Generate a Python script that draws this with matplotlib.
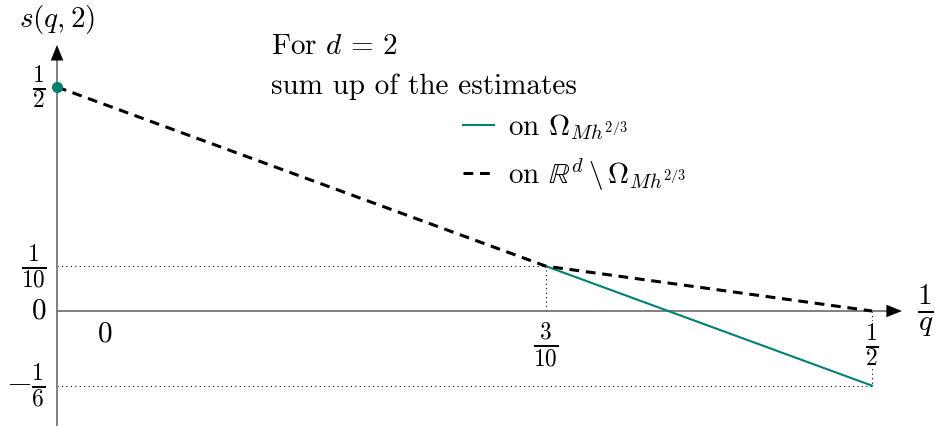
import matplotlib
matplotlib.use("Agg")
import matplotlib.pyplot as plt
from matplotlib.lines import Line2D

plt.rcParams['font.family'] = 'serif'
plt.rcParams['font.serif'] = ['cmr10']
plt.rcParams['mathtext.fontset'] = 'cm'
plt.rcParams['axes.formatter.use_mathtext'] = True

# data (x = 1/q, y = s(q, 2))
x_outside = [0, 3 / 10, 1 / 2]
y_outside = [1 / 2, 1 / 10, 0]
x_inside = [3 / 10, 1 / 2]
y_inside = [1 / 10, -1 / 6]

x_ticks = [0, 3 / 10, 1 / 2]
x_tick_labels = [r'$0$', r'$\frac{3}{10}$', r'$\frac{1}{2}$']
y_ticks = [1 / 2, 1 / 10, 0, -1 / 6]
y_tick_labels = [r'$\frac{1}{2}$', r'$\frac{1}{10}$', r'$0$', r'$-\frac{1}{6}$']

TEAL = '#007f73'
AXIS_GRAY = '#6b6b6b'
FS = 21

fig = plt.figure(figsize=(9.35, 4.26), dpi=100)
ax = fig.add_axes([0, 0, 1, 1])
ax.set_xlim(-57 / 1630, (935 - 57) / 1630)
ax.set_ylim(-(426 - 311) / 448, 311 / 448)
ax.axis('off')

x_tip = 0.5184
y_tip = 0.594
y_bot = ax.get_ylim()[0]

# helper lines
ax.plot([0, x_inside[0]], [y_inside[0]] * 2, ls=(0, (1, 3)), color='black', lw=0.8)
ax.plot([x_inside[0]] * 2, [0, y_inside[0]], ls=(0, (1, 3)), color='black', lw=0.8)
ax.plot([0, x_inside[-1]], [y_inside[-1]] * 2, ls=(0, (1, 3)), color='black', lw=0.8)
ax.plot([x_inside[-1]] * 2, [0, y_inside[-1]], ls=(0, (1, 3)), color='black', lw=0.8)

# axes
ax.plot([0, x_tip - 0.008], [0, 0], color=AXIS_GRAY, lw=1.2, solid_capstyle='butt')
ax.plot([0, 0], [y_bot, y_tip - 0.03], color=AXIS_GRAY, lw=1.2, solid_capstyle='butt')
arrow = dict(arrowstyle='-|>,head_length=0.75,head_width=0.3', mutation_scale=15,
             color='black', lw=0, shrinkA=0, shrinkB=0)
ax.annotate('', xy=(x_tip, 0), xytext=(x_tip - 0.01, 0), arrowprops=arrow)
ax.annotate('', xy=(0, y_tip), xytext=(0, y_tip - 0.03), arrowprops=arrow)

# curves
ax.plot(x_inside, y_inside, color=TEAL, lw=1.5, zorder=3)
ax.plot(x_outside, y_outside, color='black', lw=2.2, ls=(0, (3.2, 2.2)), zorder=4)
ax.plot([x_outside[0]], [y_outside[0]], 'o', color=TEAL, ms=7, zorder=5)

# tick labels
for xv, lab in zip(x_ticks, x_tick_labels):
    dx = 48 if xv == 0 else 0
    fs = FS if xv == 0 else 24
    ax.annotate(lab, (xv, 0), xytext=(dx, -10), textcoords='offset pixels',
                ha='center', va='top', fontsize=fs,
                bbox=dict(fc='white', ec='none', pad=0.3))
for yv, lab in zip(y_ticks, y_tick_labels):
    fs = FS if yv == 0 else 24
    ax.annotate(lab, (0, yv), xytext=(-11, 0), textcoords='offset pixels',
                ha='right', va='center', fontsize=fs)

# axis labels
ax.text(57 / 935, 1 - 20 / 426, r'$s(q,2)$', transform=ax.transAxes,
        ha='center', va='center', fontsize=FS)
ax.text(925 / 935, 1 - 311 / 426, r'$\frac{1}{q}$', transform=ax.transAxes,
        ha='center', va='center', fontsize=30)

# annotation text
ax.text(271 / 935, 1 - 47 / 426, r'For $d\,=\,2$', transform=ax.transAxes,
        ha='left', va='center', fontsize=FS)
ax.text(271 / 935, 1 - 87 / 426, 'sum up of the estimates', transform=ax.transAxes,
        ha='left', va='center', fontsize=FS)

handles = [Line2D([], [], color=TEAL, lw=1.5),
           Line2D([], [], color='black', lw=2.2, ls=(0, (3.2, 2.2)))]
labels = [r'on $\Omega_{Mh^{2/3}}$', r'on $\mathbb{R}^d \,\backslash\, \Omega_{Mh^{2/3}}$']
ax.legend(handles, labels, loc='upper left', bbox_to_anchor=(463 / 935, 1 - 112 / 426),
          frameon=False, fontsize=FS, handlelength=1.05, handletextpad=0.5,
          labelspacing=0.5, borderaxespad=0, borderpad=0)

fig.savefig('out.png', dpi=100)
